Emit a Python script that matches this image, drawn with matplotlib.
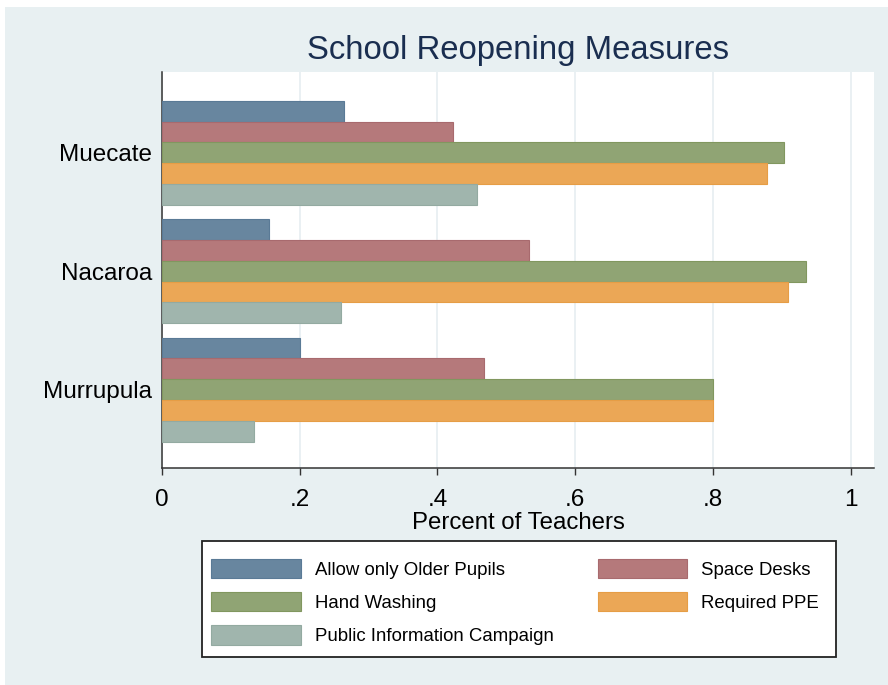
import matplotlib.pyplot as plt
from matplotlib.patches import Rectangle
import numpy as np

# data
schools = ['Muecate', 'Nacaroa', 'Murrupula']
measures = ['Allow only Older Pupils', 'Space Desks', 'Hand Washing',
            'Required PPE', 'Public Information Campaign']
older_pupils = [0.265, 0.156, 0.200]
space_desks = [0.422, 0.533, 0.467]
hand_washing = [0.903, 0.935, 0.800]
required_ppe = [0.879, 0.909, 0.800]
public_info = [0.458, 0.260, 0.133]
xticks = [0, 0.2, 0.4, 0.6, 0.8, 1]
xtick_labels = ['0', '.2', '.4', '.6', '.8', '1']

series = [older_pupils, space_desks, hand_washing, required_ppe, public_info]
fills = ['#68869f', '#b5797b', '#90a474', '#eba756', '#a0b5ad']
edges = ['#5a7a96', '#a86a6e', '#81975f', '#e69d45', '#93aaa1']

plt.rcParams['font.family'] = ['Liberation Sans', 'DejaVu Sans']
bg = '#e8f0f2'

fig = plt.figure(figsize=(8.88, 6.85), dpi=100)
fig.patch.set_facecolor('white')
# stata style outer background (small white margin at left/top)
fig.patches.append(Rectangle((5 / 888, 0), 1, 1 - 7 / 685, transform=fig.transFigure,
                             facecolor=bg, edgecolor='none', zorder=-10))

ax = fig.add_axes([162 / 888, 1 - 468 / 685, (874 - 162) / 888, (468 - 72) / 685])
ax.set_facecolor('white')

h = 0.1757
y = np.arange(len(schools))
for i, (vals, fc, ec, lab) in enumerate(zip(series, fills, edges, measures)):
    ax.barh(y + (i - 2) * h, vals, height=h, color=fc, edgecolor=ec,
            linewidth=0.8, label=lab, zorder=3)

ax.set_xlim(0, 1.034)
ax.set_ylim(2.663, -0.682)
ax.set_xticks(xticks)
ax.set_xticklabels(xtick_labels, fontsize=17.5)
ax.set_yticks(y)
ax.set_yticklabels(schools, fontsize=17.5)
ax.tick_params(axis='y', length=0, pad=7)
ax.tick_params(axis='x', length=5, width=1, color='#333333', pad=10)
ax.grid(axis='x', color='#e6eef1', linewidth=1.2, zorder=0)
for s in ['top', 'right']:
    ax.spines[s].set_visible(False)
for s in ['left', 'bottom']:
    ax.spines[s].set_color('#333333')
    ax.spines[s].set_linewidth(1.1)

ax.set_xlabel('Percent of Teachers', fontsize=17.3, labelpad=1)
fig.text(518 / 888, 1 - 51 / 685, 'School Reopening Measures', fontsize=23.7,
         color='#1a2e50', ha='center', va='center')

# legend box drawn by hand so its size matches the reference
box = (202 / 888, 1 - 657 / 685, (836 - 202) / 888, (657 - 541) / 685)
fig.patches.append(Rectangle(box[:2], box[2], box[3], transform=fig.transFigure,
                             facecolor='white', edgecolor='#222222', linewidth=1.3,
                             zorder=1))

handles, labels = ax.get_legend_handles_labels()
order = [0, 2, 4, 1, 3]
leg = fig.legend([handles[k] for k in order], [labels[k] for k in order],
                 ncol=2, loc='center left', bbox_to_anchor=(202 / 888, 1 - 602 / 685),
                 borderaxespad=0, fontsize=13.4, frameon=False,
                 handlelength=4.8, handleheight=1.2,
                 handletextpad=0.75, labelspacing=0.73, borderpad=0.5,
                 columnspacing=2.37)
leg.set_zorder(2)

fig.savefig('out.png', dpi=100)
